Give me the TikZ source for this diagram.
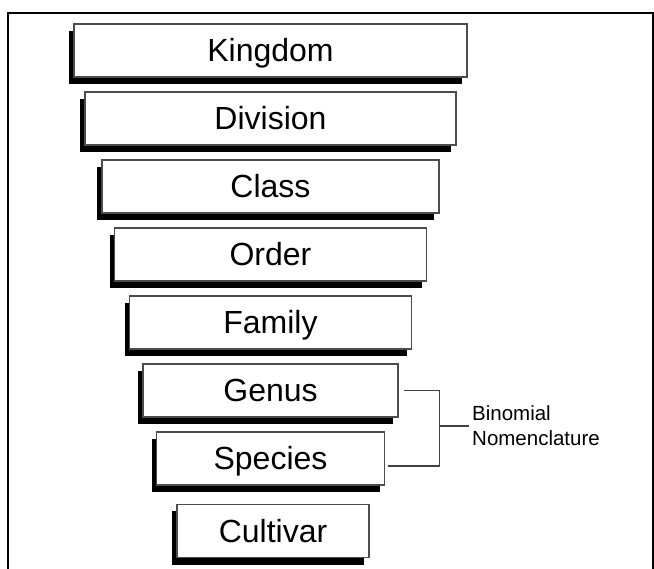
\documentclass[tikz,border=0pt]{standalone}
\usepackage{fontspec}
\setmainfont{Liberation Sans}
\usetikzlibrary{positioning,shadows}

\begin{document}
\begin{tikzpicture}[
    x=1pt, y=-1pt,
    node distance=13.8pt,
    rank/.style={draw=black!70, line width=1.2pt, fill=white, minimum height=53pt, inner sep=0pt,
        text height=23pt, text depth=0pt, font=\fontsize{32}{38}\selectfont,
        drop shadow={shadow xshift=-5pt, shadow yshift=-7pt, fill=black, opacity=1}},
    note/.style={align=left, inner sep=0pt, font=\fontsize{20.5}{25}\selectfont},
    bracket/.style={draw=black!75, line width=1.1pt},
]
    \useasboundingbox (0,0) rectangle (654,569);
    \draw[line width=1.2pt] (8,569) -- (8,13) -- (653,13) -- (653,569);

    \node[rank, minimum width=393pt] (kingdom) at (270.5,50.5) {Kingdom};
    \node[rank, minimum width=371pt, below=of kingdom] (division) {Division};
    \node[rank, minimum width=337pt, below=of division] (class) {Class};
    \node[rank, minimum width=312pt, below=of class] (order) {Order};
    \node[rank, minimum width=282pt, below=of order] (family) {Family};
    \node[rank, minimum width=255pt, below=of family] (genus) {Genus};
    \node[rank, minimum width=228pt, below=of genus] (species) {Species};
    \node[rank, minimum width=192pt, below=18.3pt of species, xshift=2.5pt] (cultivar) {Cultivar};

    % Side label
    \node[note, anchor=west] (binomial) at (472,426) {Binomial\\Nomenclature};

    \draw[bracket] ([xshift=5pt]genus.east) -| ([xshift=54pt,yshift=-7.5pt]species.east)
        -- ([xshift=3pt,yshift=-7.5pt]species.east);
    \draw[bracket] ([xshift=-3pt]binomial.west) -- ++(-30,0);
\end{tikzpicture}
\end{document}
